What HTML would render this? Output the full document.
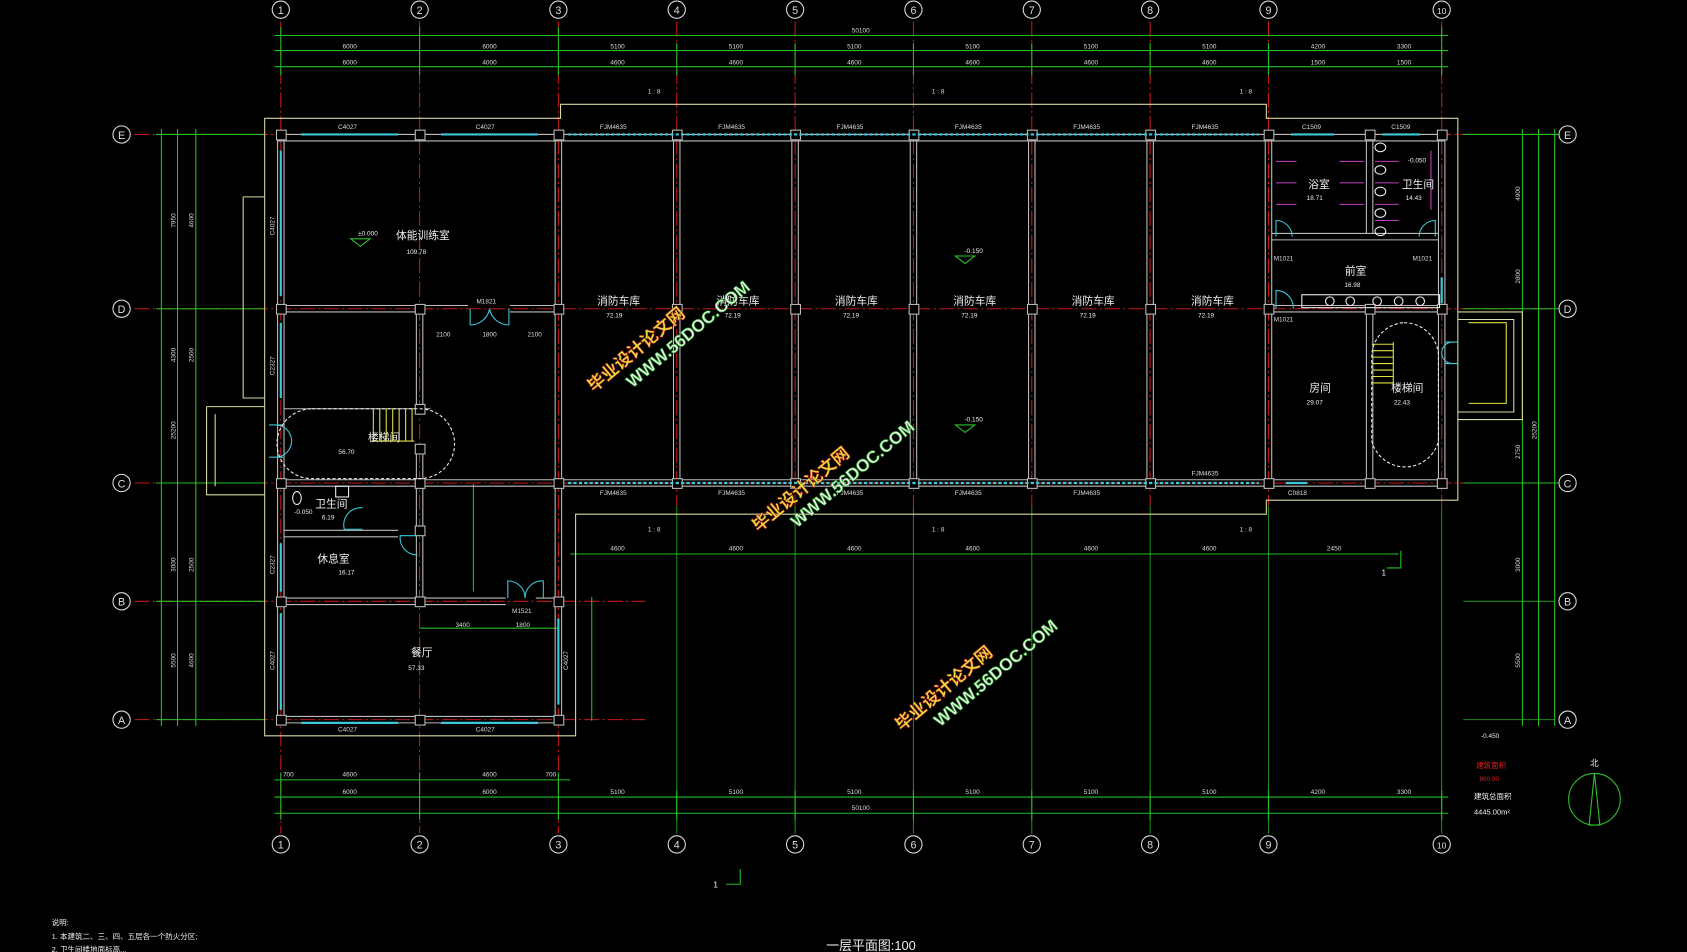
<!DOCTYPE html><html><head><meta charset="utf-8"><style>html,body{margin:0;padding:0;background:#000;}svg{display:block}</style></head><body>
<svg width="1687" height="952" viewBox="0 0 1568 885" preserveAspectRatio="none" xmlns="http://www.w3.org/2000/svg" font-family="Liberation Sans, Noto Sans CJK SC, sans-serif">
<rect width="1568" height="885" fill="#000"/>
<!-- axis lines -->
<g stroke="#c21818" stroke-width="1" stroke-dasharray="14,3,2,3">
<line x1="261" y1="20" x2="261" y2="775"/><line x1="390" y1="20" x2="390" y2="775"/><line x1="519" y1="20" x2="519" y2="775"/>
<line x1="629" y1="20" x2="629" y2="470"/><line x1="739" y1="20" x2="739" y2="470"/><line x1="849" y1="20" x2="849" y2="470"/><line x1="959" y1="20" x2="959" y2="470"/><line x1="1069" y1="20" x2="1069" y2="470"/><line x1="1179" y1="20" x2="1179" y2="470"/><line x1="1340" y1="20" x2="1340" y2="470"/>
<line x1="125" y1="125" x2="1445" y2="125"/><line x1="125" y1="287" x2="1445" y2="287"/><line x1="125" y1="449" x2="1445" y2="449"/><line x1="125" y1="559" x2="600" y2="559"/><line x1="125" y1="669" x2="600" y2="669"/>
</g>
<g stroke="#1a8a1a" stroke-width="1"><line x1="629" y1="470" x2="629" y2="775"/><line x1="739" y1="470" x2="739" y2="775"/><line x1="849" y1="470" x2="849" y2="775"/><line x1="959" y1="470" x2="959" y2="775"/><line x1="1069" y1="470" x2="1069" y2="775"/><line x1="1179" y1="470" x2="1179" y2="775"/><line x1="1340" y1="470" x2="1340" y2="775"/>
<line x1="1360" y1="559" x2="1445" y2="559"/><line x1="1360" y1="669" x2="1445" y2="669"/></g>
<!-- axis circles -->
<g fill="none" stroke="#ddd" stroke-width="1">
<circle cx="261" cy="9" r="8"/><circle cx="390" cy="9" r="8"/><circle cx="519" cy="9" r="8"/><circle cx="629" cy="9" r="8"/><circle cx="739" cy="9" r="8"/><circle cx="849" cy="9" r="8"/><circle cx="959" cy="9" r="8"/><circle cx="1069" cy="9" r="8"/><circle cx="1179" cy="9" r="8"/><circle cx="1340" cy="9" r="8"/>
<circle cx="261" cy="785" r="8"/><circle cx="390" cy="785" r="8"/><circle cx="519" cy="785" r="8"/><circle cx="629" cy="785" r="8"/><circle cx="739" cy="785" r="8"/><circle cx="849" cy="785" r="8"/><circle cx="959" cy="785" r="8"/><circle cx="1069" cy="785" r="8"/><circle cx="1179" cy="785" r="8"/><circle cx="1340" cy="785" r="8"/>
<circle cx="113" cy="125" r="8"/><circle cx="113" cy="287" r="8"/><circle cx="113" cy="449" r="8"/><circle cx="113" cy="559" r="8"/><circle cx="113" cy="669" r="8"/>
<circle cx="1457" cy="125" r="8"/><circle cx="1457" cy="287" r="8"/><circle cx="1457" cy="449" r="8"/><circle cx="1457" cy="559" r="8"/><circle cx="1457" cy="669" r="8"/>
</g>
<g fill="#ddd" font-size="10" text-anchor="middle">
<text x="261" y="13">1</text><text x="390" y="13">2</text><text x="519" y="13">3</text><text x="629" y="13">4</text><text x="739" y="13">5</text><text x="849" y="13">6</text><text x="959" y="13">7</text><text x="1069" y="13">8</text><text x="1179" y="13">9</text><text x="1340" y="13" font-size="8">10</text>
<text x="261" y="789">1</text><text x="390" y="789">2</text><text x="519" y="789">3</text><text x="629" y="789">4</text><text x="739" y="789">5</text><text x="849" y="789">6</text><text x="959" y="789">7</text><text x="1069" y="789">8</text><text x="1179" y="789">9</text><text x="1340" y="789" font-size="8">10</text>
<text x="113" y="129">E</text><text x="113" y="291">D</text><text x="113" y="453">C</text><text x="113" y="563">B</text><text x="113" y="673">A</text>
<text x="1457" y="129">E</text><text x="1457" y="291">D</text><text x="1457" y="453">C</text><text x="1457" y="563">B</text><text x="1457" y="673">A</text>
</g>
<!-- dimension lines -->
<g stroke="#22c022" stroke-width="1">
<line x1="255" y1="33" x2="1346" y2="33"/><line x1="255" y1="47" x2="1346" y2="47"/><line x1="255" y1="62" x2="1346" y2="62"/>
<line x1="255" y1="725" x2="530" y2="725"/><line x1="255" y1="741" x2="1346" y2="741"/><line x1="255" y1="756" x2="1346" y2="756"/>
<line x1="150" y1="120" x2="150" y2="675"/><line x1="165" y1="120" x2="165" y2="675"/><line x1="182" y1="120" x2="182" y2="675"/>
<line x1="1415" y1="120" x2="1415" y2="675"/><line x1="1430" y1="120" x2="1430" y2="675"/><line x1="1445" y1="120" x2="1445" y2="675"/>
<line x1="530" y1="515" x2="1300" y2="515"/>
<line x1="145" y1="125" x2="245" y2="125"/><line x1="145" y1="287" x2="245" y2="287"/><line x1="145" y1="449" x2="245" y2="449"/><line x1="145" y1="559" x2="245" y2="559"/><line x1="145" y1="669" x2="245" y2="669"/>
<line x1="1360" y1="125" x2="1450" y2="125"/><line x1="1360" y1="287" x2="1450" y2="287"/><line x1="1360" y1="449" x2="1450" y2="449"/>
<line x1="261" y1="25" x2="261" y2="70"/><line x1="390" y1="25" x2="390" y2="70"/><line x1="519" y1="25" x2="519" y2="70"/><line x1="629" y1="40" x2="629" y2="70"/><line x1="739" y1="40" x2="739" y2="70"/><line x1="849" y1="40" x2="849" y2="70"/><line x1="959" y1="40" x2="959" y2="70"/><line x1="1069" y1="40" x2="1069" y2="70"/><line x1="1179" y1="40" x2="1179" y2="70"/><line x1="1340" y1="25" x2="1340" y2="70"/>
<line x1="261" y1="718" x2="261" y2="762"/><line x1="390" y1="718" x2="390" y2="762"/><line x1="519" y1="718" x2="519" y2="762"/><line x1="629" y1="735" x2="629" y2="762"/><line x1="739" y1="735" x2="739" y2="762"/><line x1="849" y1="735" x2="849" y2="762"/><line x1="959" y1="735" x2="959" y2="762"/><line x1="1069" y1="735" x2="1069" y2="762"/><line x1="1179" y1="735" x2="1179" y2="762"/><line x1="1340" y1="735" x2="1340" y2="762"/>
<line x1="550" y1="555" x2="550" y2="670"/><line x1="440" y1="450" x2="440" y2="550"/><line x1="390" y1="584" x2="519" y2="584"/>
<path d="M675 822 H688 V808" fill="none"/><path d="M1289 528 H1302 V512" fill="none"/>
</g>
<g fill="#ddd" font-size="6" text-anchor="middle">
<text x="800" y="30">50100</text><text x="800" y="753">50100</text>
<text x="325" y="45">6000</text><text x="455" y="45">6000</text><text x="574" y="45">5100</text><text x="684" y="45">5100</text><text x="794" y="45">5100</text><text x="904" y="45">5100</text><text x="1014" y="45">5100</text><text x="1124" y="45">5100</text><text x="1225" y="45">4200</text><text x="1305" y="45">3300</text>
<text x="325" y="60">6000</text><text x="455" y="60">4000</text><text x="574" y="60">4600</text><text x="684" y="60">4600</text><text x="794" y="60">4600</text><text x="904" y="60">4600</text><text x="1014" y="60">4600</text><text x="1124" y="60">4600</text><text x="1225" y="60">1500</text><text x="1305" y="60">1500</text>
<text x="325" y="738">6000</text><text x="455" y="738">6000</text><text x="574" y="738">5100</text><text x="684" y="738">5100</text><text x="794" y="738">5100</text><text x="904" y="738">5100</text><text x="1014" y="738">5100</text><text x="1124" y="738">5100</text><text x="1225" y="738">4200</text><text x="1305" y="738">3300</text>
<text x="325" y="722">4600</text><text x="455" y="722">4600</text><text x="268" y="722">700</text><text x="512" y="722">700</text>
<text x="574" y="512">4600</text><text x="684" y="512">4600</text><text x="794" y="512">4600</text><text x="904" y="512">4600</text><text x="1014" y="512">4600</text><text x="1124" y="512">4600</text><text x="1240" y="512">2450</text>
<text x="412" y="313">2100</text><text x="455" y="313">1800</text><text x="497" y="313">2100</text><text x="430" y="583">3400</text><text x="486" y="583">1800</text>
<text x="608" y="87">1 : 8</text><text x="1158" y="87">1 : 8</text><text x="608" y="494">1 : 8</text><text x="872" y="494">1 : 8</text><text x="1158" y="494">1 : 8</text><text x="872" y="87">1 : 8</text>
<text x="323" y="120">C4027</text><text x="451" y="120">C4027</text><text x="323" y="680">C4027</text><text x="451" y="680">C4027</text>
<text x="570" y="120">FJM4635</text><text x="680" y="120">FJM4635</text><text x="790" y="120">FJM4635</text><text x="900" y="120">FJM4635</text><text x="1010" y="120">FJM4635</text><text x="1120" y="120">FJM4635</text>
<text x="570" y="460">FJM4635</text><text x="680" y="460">FJM4635</text><text x="790" y="460">FJM4635</text><text x="900" y="460">FJM4635</text><text x="1010" y="460">FJM4635</text><text x="1120" y="442">FJM4635</text>
<text x="1219" y="120">C1509</text><text x="1302" y="120">C1509</text><text x="1206" y="460">C0818</text>
<text x="452" y="282">M1821</text><text x="485" y="570">M1521</text><text x="1193" y="242">M1021</text><text x="1322" y="242">M1021</text><text x="1193" y="299">M1021</text>
</g>
<g fill="#ddd" font-size="6" text-anchor="middle">
<text transform="translate(163,400) rotate(-90)">25200</text><text transform="translate(163,205) rotate(-90)">7950</text><text transform="translate(180,205) rotate(-90)">4600</text><text transform="translate(180,330) rotate(-90)">2500</text><text transform="translate(163,330) rotate(-90)">4300</text><text transform="translate(163,525) rotate(-90)">3000</text><text transform="translate(180,525) rotate(-90)">2500</text><text transform="translate(163,614) rotate(-90)">5500</text><text transform="translate(180,614) rotate(-90)">4600</text>
<text transform="translate(1428,400) rotate(-90)">25200</text><text transform="translate(1413,180) rotate(-90)">4900</text><text transform="translate(1413,257) rotate(-90)">2800</text><text transform="translate(1413,420) rotate(-90)">2750</text><text transform="translate(1413,525) rotate(-90)">3000</text><text transform="translate(1413,614) rotate(-90)">5500</text>
<text transform="translate(255,210) rotate(-90)">C4027</text><text transform="translate(255,340) rotate(-90)">C2327</text><text transform="translate(255,525) rotate(-90)">C2327</text><text transform="translate(255,614) rotate(-90)">C4027</text><text transform="translate(528,614) rotate(-90)">C4027</text>
</g>
<!-- outer outline (yellowish) -->
<g fill="none" stroke="#d8d8a0" stroke-width="1">
<path d="M246 110 H521 V97 H1177 V110 H1355 V465 H1177 V478 H535 V684 H246 Z"/>
<path d="M226 183 H246 M226 183 V370 H246"/>
<path d="M192 378 H246 M192 378 V460 H246 M200 385 V452"/>
<path d="M1355 290 H1415 V390 H1355 M1355 297 H1407 V383 H1355"/>
</g>
<!-- walls -->
<g fill="none" stroke="#bbb" stroke-width="1">
<path d="M258 125 H1343 M258 131 H1343"/>
<path d="M258 446 H1343 M258 452 H1343"/>
<path d="M258 125 V672 M264 125 V672"/>
<path d="M258 666 H522 M258 672 H522"/>
<path d="M516 449 V672 M522 449 V672"/>
<path d="M516 125 V452 M522 125 V452"/>
<path d="M626 131 V446 M632 131 V446 M736 131 V446 M742 131 V446 M846 131 V446 M852 131 V446 M956 131 V446 M962 131 V446 M1066 131 V446 M1072 131 V446"/>
<path d="M1176 125 V452 M1182 125 V452 M1337 125 V452 M1343 125 V452"/>
<path d="M264 284 H435 M264 290 H387 M474 284 H516 M474 290 H516"/>
<path d="M387 290 V380 M393 290 V380 M387 420 V560 M393 420 V560"/>
<path d="M264 380 H400 M264 556 H470 M264 562 H470 M498 556 H516"/>
<path d="M264 493 H370 M264 499 H370"/>
<path d="M1182 217 H1337 M1182 223 H1337 M1182 284 H1337 M1182 290 H1337"/>
<path d="M1270 131 V217 M1276 131 V217 M1270 290 V446 M1276 290 V446"/>
</g>
<!-- columns -->
<g fill="#000" stroke="#bbb" stroke-width="1">
<rect x="257" y="121" width="9" height="9"/><rect x="386" y="121" width="9" height="9"/><rect x="515" y="121" width="9" height="9"/><rect x="625" y="121" width="9" height="9"/><rect x="735" y="121" width="9" height="9"/><rect x="845" y="121" width="9" height="9"/><rect x="955" y="121" width="9" height="9"/><rect x="1065" y="121" width="9" height="9"/><rect x="1175" y="121" width="9" height="9"/><rect x="1269" y="121" width="9" height="9"/><rect x="1336" y="121" width="9" height="9"/>
<rect x="257" y="283" width="9" height="9"/><rect x="386" y="283" width="9" height="9"/><rect x="515" y="283" width="9" height="9"/><rect x="625" y="283" width="9" height="9"/><rect x="735" y="283" width="9" height="9"/><rect x="845" y="283" width="9" height="9"/><rect x="955" y="283" width="9" height="9"/><rect x="1065" y="283" width="9" height="9"/><rect x="1175" y="283" width="9" height="9"/><rect x="1269" y="283" width="9" height="9"/><rect x="1336" y="283" width="9" height="9"/>
<rect x="257" y="445" width="9" height="9"/><rect x="386" y="445" width="9" height="9"/><rect x="515" y="445" width="9" height="9"/><rect x="625" y="445" width="9" height="9"/><rect x="735" y="445" width="9" height="9"/><rect x="845" y="445" width="9" height="9"/><rect x="955" y="445" width="9" height="9"/><rect x="1065" y="445" width="9" height="9"/><rect x="1175" y="445" width="9" height="9"/><rect x="1269" y="445" width="9" height="9"/><rect x="1336" y="445" width="9" height="9"/>
<rect x="257" y="555" width="9" height="9"/><rect x="386" y="555" width="9" height="9"/><rect x="515" y="555" width="9" height="9"/>
<rect x="257" y="665" width="9" height="9"/><rect x="386" y="665" width="9" height="9"/><rect x="515" y="665" width="9" height="9"/>
<rect x="386" y="376" width="9" height="9"/><rect x="386" y="413" width="9" height="9"/><rect x="386" y="489" width="9" height="9"/>
</g>
<!-- windows cyan -->
<g stroke="#3cc8d8" stroke-width="2" fill="none">
<line x1="280" y1="125" x2="370" y2="125"/><line x1="410" y1="125" x2="500" y2="125"/><line x1="280" y1="672" x2="370" y2="672"/><line x1="410" y1="672" x2="500" y2="672"/>
<line x1="261" y1="140" x2="261" y2="275"/><line x1="261" y1="300" x2="261" y2="370"/><line x1="261" y1="505" x2="261" y2="550"/><line x1="261" y1="570" x2="261" y2="660"/><line x1="519" y1="575" x2="519" y2="655"/>
<line x1="1200" y1="125" x2="1240" y2="125"/><line x1="1285" y1="125" x2="1320" y2="125"/><line x1="1195" y1="449" x2="1215" y2="449"/><line x1="1340" y1="258" x2="1340" y2="282"/>
</g>
<g stroke="#3cc8d8" stroke-width="2" stroke-dasharray="3,2"><line x1="528" y1="125" x2="1170" y2="125"/><line x1="528" y1="449" x2="1170" y2="449"/></g>
<!-- doors -->
<g fill="none" stroke="#3cc8d8" stroke-width="1">
<path d="M437 287 V302 A18 18 0 0 0 455 287 M473 287 V302 A18 18 0 0 1 455 287"/>
<path d="M472 556 V540 A16 16 0 0 1 488 556 M505 556 V540 A16 16 0 0 0 488 556"/>
<path d="M1186 220 V205 A15 15 0 0 1 1201 220 M1334 220 V205 A15 15 0 0 0 1319 220 M1186 287 V270 A16 16 0 0 1 1202 287"/>
<path d="M388 498 H372 A16 16 0 0 0 388 516"/><path d="M337 492 H320 A16 16 0 0 1 337 472"/>
<path d="M1343 318 H1355 M1343 338 H1355 M1350 318 A10 10 0 0 0 1350 338"/>
<path d="M263 395 H250 M263 425 H250 M256 395 A10 10 0 0 1 256 425"/>
</g>
<!-- bath/toilets magenta -->
<g fill="none" stroke="#c040c0" stroke-width="1">
<path d="M1186 150 H1205 M1186 170 H1205 M1186 190 H1205 M1245 150 H1268 M1245 170 H1268 M1245 190 H1268 M1278 150 H1300 M1278 170 H1300 M1278 190 H1300 M1278 205 H1300 M1330 140 V195"/>
</g>
<g fill="none" stroke="#eee" stroke-width="1">
<ellipse cx="1283" cy="137" rx="5" ry="4"/><ellipse cx="1283" cy="158" rx="5" ry="4"/><ellipse cx="1283" cy="178" rx="5" ry="4"/><ellipse cx="1283" cy="198" rx="5" ry="4"/><ellipse cx="1283" cy="215" rx="5" ry="4"/>
<rect x="1210" y="274" width="128" height="12"/>
<circle cx="1236" cy="280" r="4"/><circle cx="1255" cy="280" r="4"/><circle cx="1280" cy="280" r="4"/><circle cx="1300" cy="280" r="4"/><circle cx="1320" cy="280" r="4"/>
<ellipse cx="276" cy="463" rx="4" ry="6"/><rect x="312" y="452" width="12" height="10"/>
</g>
<!-- stairs -->
<g fill="none" stroke="#eee" stroke-width="1" stroke-dasharray="3,2">
<path d="M290 380 H390 A22 22 0 0 1 390 445 H290 A22 22 0 0 1 290 380"/>
<path d="M1305 300 A32 32 0 0 1 1337 330 V410 A32 32 0 0 1 1275 410 V330 A32 32 0 0 1 1305 300"/>
</g>
<g stroke="#e0e040" stroke-width="1" fill="none"><path d="M347 380 V410 M353 380 V410 M359 380 V410 M365 380 V410 M371 380 V410 M377 380 V410 M383 380 V410 M345 410 H385"/>
<path d="M1275 320 H1295 M1275 326 H1295 M1275 332 H1295 M1275 338 H1295 M1275 344 H1295 M1275 350 H1295 M1275 356 H1295 M1295 318 V360"/>
<path d="M1365 300 H1400 V375 H1365"/></g>
<!-- labels -->
<g fill="#eee" font-size="10" text-anchor="middle">
<text x="393" y="222">体能训练室</text><text x="575" y="283">消防车库</text><text x="686" y="283">消防车库</text><text x="796" y="283">消防车库</text><text x="906" y="283">消防车库</text><text x="1016" y="283">消防车库</text><text x="1127" y="283">消防车库</text>
<text x="1226" y="175">浴室</text><text x="1318" y="175">卫生间</text><text x="1260" y="255">前室</text><text x="1227" y="364">房间</text><text x="1308" y="364">楼梯间</text>
<text x="357" y="410">楼梯间</text><text x="308" y="472">卫生间</text><text x="310" y="523">休息室</text><text x="392" y="610">餐厅</text>
</g>
<g fill="#eee" font-size="6" text-anchor="middle">
<text x="387" y="236">109.78</text><text x="571" y="295">72.19</text><text x="681" y="295">72.19</text><text x="791" y="295">72.19</text><text x="901" y="295">72.19</text><text x="1011" y="295">72.19</text><text x="1121" y="295">72.19</text>
<text x="1222" y="186">18.71</text><text x="1314" y="186">14.43</text><text x="1257" y="267">16.98</text><text x="1222" y="376">29.07</text><text x="1303" y="376">22.43</text>
<text x="322" y="422">56.70</text><text x="305" y="483">6.19</text><text x="322" y="534">16.17</text><text x="387" y="623">57.33</text>
<text x="342" y="219">±0.000</text><text x="905" y="235">-0.150</text><text x="905" y="392">-0.150</text><text x="1317" y="151">-0.050</text><text x="282" y="478">-0.050</text><text x="1385" y="686">-0.450</text>
</g>
<g fill="none" stroke="#2ec02e" stroke-width="1"><path d="M326 222 H344 L335 229 Z M888 238 H906 L897 245 Z M888 395 H906 L897 402 Z"/></g>
<!-- watermarks -->
<g font-weight="bold" font-size="16">
<g transform="translate(552,365) rotate(-40)"><text fill="#dfe640" stroke="#c22" stroke-width="0.5">毕业设计论文网</text><text x="30" y="20" fill="#eee" stroke="#2a2" stroke-width="0.6">WWW.56DOC.COM</text></g>
<g transform="translate(705,495) rotate(-40)"><text fill="#dfe640" stroke="#c22" stroke-width="0.5">毕业设计论文网</text><text x="30" y="20" fill="#eee" stroke="#2a2" stroke-width="0.6">WWW.56DOC.COM</text></g>
<g transform="translate(838,680) rotate(-40)"><text fill="#dfe640" stroke="#c22" stroke-width="0.5">毕业设计论文网</text><text x="30" y="20" fill="#eee" stroke="#2a2" stroke-width="0.6">WWW.56DOC.COM</text></g>
</g>
<!-- legend -->
<text x="1372" y="714" fill="#e02020" font-size="7">建筑面积</text><text x="1375" y="726" fill="#e02020" font-size="6">800.00</text>
<text x="1370" y="743" fill="#eee" font-size="7">建筑总面积</text><text x="1370" y="757" fill="#eee" font-size="7">4445.00m²</text>
<circle cx="1482" cy="743" r="24" fill="none" stroke="#2ec02e"/><path d="M1482 719 L1477 767 H1487 Z" fill="none" stroke="#2ec02e"/><text x="1478" y="712" fill="#eee" font-size="8">北</text>
<text x="663" y="825" fill="#eee" font-size="8">1</text><text x="1284" y="535" fill="#eee" font-size="8">1</text>
<g fill="#eee" font-size="7"><text x="48" y="860">说明:</text><text x="48" y="873">1. 本建筑二、三、四、五层各一个防火分区;</text><text x="48" y="885">2. 卫生间楼地面标高...</text></g>
<text x="768" y="883" fill="#eee" font-size="12">一层平面图:100</text>
</svg>
</body></html>
